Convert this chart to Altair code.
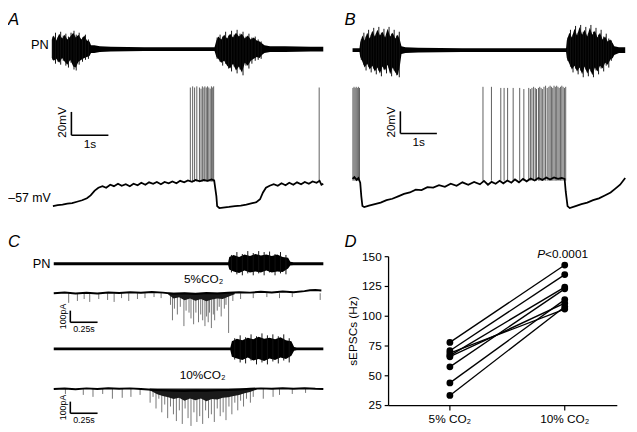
import altair as alt
import pandas as pd

FONT = "Liberation Sans"

# ---------------- data ----------------
# Panel A: phrenic nerve (PN, arbitrary units) and membrane potential (mV) vs time (s)
pnA_t = [0.00,0.05,0.12,0.20,0.28,0.35,0.42,0.50,0.58,0.65,0.72,0.80,0.88,0.95,1.02,1.06,1.15,1.30,1.60,2.5,
         3.5,4.40,4.45,4.50,4.58,4.66,4.74,4.82,4.90,4.98,5.06,5.14,5.22,5.30,5.38,5.46,5.54,5.62,5.68,5.75,
         5.9,6.3,7.0,7.34]
pnA_hi = [10,14,9,16,11,15,10,13,17,12,15,10,14,9,8,4,4,3,2.5,2,
          2,2,9,13,10,15,11,16,12,17,13,16,11,14,10,12,9,8,6,4,
          3,3,2.5,2.5]
pnA_lo = [-9,-12,-10,-14,-9,-13,-16,-11,-18,-19,-13,-11,-9,-8,-7,-4,-4,-3,-2.5,-2,
          -2,-2,-8,-10,-14,-12,-17,-20,-15,-22,-18,-24,-14,-17,-12,-10,-8,-9,-6,-4,
          -3,-3,-2.5,-2.5]
pnA_sp_t = [0.03,0.10,0.17,0.24,0.31,0.38,0.45,0.52,0.60,0.66,0.74,0.83,0.91,0.99,
            4.47,4.55,4.62,4.70,4.78,4.86,4.93,5.01,5.09,5.17,5.25,5.33,5.41,5.50,5.58,5.66]
pnA_sp_top = [13,17,12,18,14,16,13,17,19,15,17,12,15,10,
              12,15,13,18,14,19,15,20,16,18,13,16,12,13,10,8]
pnA_sp_bot = [-11,-15,-13,-16,-12,-17,-19,-14,-21,-22,-16,-13,-11,-10,
              -10,-13,-17,-15,-20,-23,-18,-25,-21,-27,-17,-20,-15,-12,-11,-10]
memA_t = [0.03,0.16,0.29,0.42,0.55,0.68,0.82,0.95,1.05,1.16,1.26,1.37,1.47,1.58,1.68,1.79,1.89,2.00,2.11,2.21,
          2.32,2.42,2.53,2.63,2.74,2.84,2.95,3.05,3.16,3.26,3.37,3.47,3.58,3.68,3.79,3.89,4.00,4.11,4.21,4.32,
          4.39,4.45,4.47,4.53,4.63,4.79,4.95,5.11,5.26,5.42,5.53,5.63,5.71,5.79,5.89,6.00,6.11,6.21,6.32,6.42,
          6.53,6.63,6.74,6.84,6.95,7.05,7.16,7.24,7.29,7.34]
memA_v = [-57.0,-56.2,-55.8,-54.9,-54.5,-53.3,-52.0,-50.3,-47.8,-43.7,-41.2,-39.9,-41.2,-38.7,-39.9,-37.8,-39.5,-38.2,-39.9,-37.8,
          -39.1,-37.0,-38.7,-36.6,-37.8,-36.2,-38.2,-36.2,-37.4,-35.8,-37.4,-35.3,-36.6,-34.9,-36.2,-34.5,-35.8,-34.5,-35.3,-34.1,
          -34.9,-48.7,-57.0,-58.7,-58.3,-57.8,-57.0,-56.6,-55.8,-54.5,-53.7,-51.2,-45.3,-41.2,-39.5,-38.2,-39.5,-37.4,-39.1,-37.0,
          -38.7,-36.6,-38.2,-36.2,-37.8,-35.8,-37.0,-35.3,-38.7,-37.8]
spkA_t = [3.745,3.808,3.861,3.921,3.992,4.034,4.071,4.113,4.139,4.176,4.211,4.245,4.282,4.316,4.350,4.376,7.229]
spkA_peak = [45,46,45,46,45,44,46,45,46,45,46,45,44,46,45,46,45]
spkA_base = -36

# Panel B
pnB_t = [0.0,0.19,0.21,0.27,0.33,0.40,0.47,0.54,0.61,0.68,0.75,0.82,0.89,0.96,1.03,1.10,1.17,1.24,1.30,1.34,
         1.45,1.8,3.0,4.5,5.85,5.87,5.94,6.01,6.08,6.15,6.22,6.29,6.36,6.43,6.50,6.57,6.64,6.71,6.78,6.85,
         6.92,6.99,7.06,7.13,7.17,7.3,7.47]
pnB_hi = [2,2,8,15,10,18,12,20,14,21,15,19,13,22,14,18,12,16,10,4,
          3,2.5,2,2,2,10,18,13,22,15,24,16,21,14,23,16,20,13,18,11,
          14,9,11,7,4,3,3]
pnB_lo = [-2,-2,-7,-12,-18,-14,-20,-16,-22,-18,-24,-17,-21,-15,-25,-18,-23,-26,-15,-4,
          -3,-2.5,-2,-2,-2,-8,-14,-20,-16,-22,-18,-25,-17,-24,-19,-26,-18,-22,-16,-19,
          -13,-15,-10,-8,-5,-3,-3]
pnB_sp_t = [0.24,0.31,0.37,0.44,0.51,0.58,0.65,0.72,0.79,0.86,0.93,1.00,1.07,1.14,1.21,1.28,
            5.90,5.97,6.04,6.11,6.18,6.25,6.32,6.39,6.46,6.53,6.60,6.67,6.74,6.81,6.88,6.95,7.02,7.09]
pnB_sp_top = [11,18,14,21,16,23,17,24,18,22,16,24,17,21,15,19,
              13,21,16,25,18,26,19,24,17,26,19,23,16,21,14,17,12,10]
pnB_sp_bot = [-10,-15,-21,-17,-23,-19,-25,-21,-27,-20,-24,-18,-27,-21,-26,-28,
              -11,-17,-23,-19,-25,-21,-28,-20,-27,-22,-28,-21,-25,-19,-22,-16,-18,-11]
memB_t = [0.00,0.05,0.11,0.16,0.21,0.24,0.27,0.32,0.45,0.61,0.77,0.93,1.09,1.25,1.41,1.57,1.73,1.89,2.05,2.21,
          2.37,2.53,2.69,2.85,3.01,3.17,3.33,3.49,3.60,3.71,3.81,3.92,4.03,4.13,4.24,4.35,4.45,4.56,4.67,4.77,
          4.88,4.99,5.09,5.20,5.31,5.41,5.52,5.63,5.73,5.81,5.84,5.89,5.95,6.11,6.27,6.43,6.59,6.75,6.91,7.07,
          7.20,7.33,7.47]
memB_v = [-32.4,-30.7,-33.3,-31.6,-35.9,-48.2,-57.0,-57.9,-56.6,-55.2,-53.9,-51.7,-50.4,-48.2,-46.0,-44.7,-42.1,-42.5,-39.9,-40.3,
          -38.1,-39.5,-36.8,-38.6,-35.5,-37.7,-35.1,-37.3,-34.2,-37.7,-35.1,-36.8,-34.2,-36.4,-33.8,-35.9,-32.9,-35.5,-32.4,-34.6,
          -32.0,-33.8,-31.6,-33.3,-31.1,-32.9,-31.1,-32.4,-31.6,-32.4,-43.8,-57.0,-58.8,-57.0,-55.2,-53.9,-51.7,-50.0,-47.4,-44.7,
          -41.2,-37.7,-31.6]
spkB_t = [0.01,0.04,0.07,0.10,0.13,0.16,0.19,
          3.573,3.805,4.061,4.152,4.248,4.400,4.579,4.693,4.827,4.872,4.915,4.960,5.005,5.040,5.093,5.128,5.165,5.200,
          5.245,5.288,5.333,5.379,5.413,5.448,5.485,5.520,5.555,5.592,5.627,5.661,5.699,5.733,5.768,5.805,5.840]
spkB_peak = [50,51,50,51,50,51,50,
             51,51,50,50,50,50,50,49,50,49,50,51,50,49,50,51,50,49,51,52,50,51,52,51,50,52,51,52,51,50,51,52,51,50,51]
spkB_base = -34

# Panel C: PN (a.u.) and sEPSC currents (pA) vs time (s)
pnC1_t = [0,0.5,1.0,1.5,1.60,1.61,1.65,1.70,1.75,1.80,1.85,1.90,1.95,2.00,2.05,2.10,2.15,2.17,2.2,2.473]
pnC1_hi = [1.5,1.5,1.5,1.5,1.5,7,9,7,9.5,8,10,8.5,9.5,8,9.5,7,6,2,1.5,1.5]
pnC1_lo = [-1.5,-1.5,-1.5,-1.5,-1.5,-6,-8,-9.5,-7,-9,-8,-9,-7,-9,-8,-8.5,-5,-2,-1.5,-1.5]
pnC1_sp_t = [1.63,1.68,1.73,1.78,1.83,1.88,1.93,1.98,2.03,2.08,2.13]
pnC1_sp_top = [9,12,10,13,11,13,12,12.5,10,12,9]
pnC1_sp_bot = [-9,-11,-12,-10,-12,-10,-12,-9,-12,-10,-11]
pnC2_t = [0,0.5,1.0,1.5,1.62,1.634,1.68,1.73,1.78,1.83,1.88,1.93,1.98,2.03,2.08,2.13,2.18,2.205,2.23,2.473]
pnC2_hi = [1.5,1.5,1.5,1.5,1.5,8,10.5,9,11.5,10,12.5,10.5,11.5,10,12,9,8,2,1.5,1.5]
pnC2_lo = [-1.5,-1.5,-1.5,-1.5,-1.5,-8,-10,-11.5,-9,-12,-10.5,-12.5,-10,-11.5,-9,-10.5,-7,-2,-1.5,-1.5]
pnC2_sp_t = [1.66,1.71,1.76,1.81,1.86,1.91,1.96,2.01,2.06,2.11,2.16]
pnC2_sp_top = [11,14,12,15,13,16,14,15,13,15,11]
pnC2_sp_bot = [-11,-14,-15,-12,-16,-14,-16,-13,-15,-12,-14]

i1_t = [0,0.1,0.2,0.3,0.4,0.5,0.6,0.7,0.8,0.9,1.0,1.1,1.2,1.3,1.4,1.5,1.6,1.7,1.8,1.9,2.0,2.1,2.2,2.3,2.35,2.4,2.455]
i1_v = [0,6,-3,4,-2,7,2,9,4,10,5,-4,0,-6,2,-3,4,8,5,12,7,14,9,18,25,28,24]
core1_t = [1.05,1.10,1.15,1.20,1.25,1.30,1.35,1.40,1.45,1.50,1.55,1.60,1.66]
core1_lo = [-10,-45,-35,-60,-45,-65,-50,-70,-55,-45,-50,-30,-8]
ev1_t = [0.137,0.217,0.279,0.330,0.413,0.494,0.554,0.622,0.688,0.768,0.837,0.920,0.985,
         1.071,1.089,1.107,1.134,1.161,1.194,1.214,1.241,1.259,1.283,1.304,1.328,1.348,1.366,1.387,1.402,1.417,
         1.429,1.446,1.464,1.476,1.500,1.518,1.536,1.565,1.580,1.604,1.643,
         1.714,1.830,1.955,2.071,2.188,2.444]
ev1_a = [-83,-67,-50,-75,-50,-58,-75,-42,-67,-50,-42,-33,-42,
         -100,-233,-133,-183,-117,-283,-150,-167,-217,-267,-167,-250,-183,-233,-283,-200,-250,
         -167,-300,-183,-233,-150,-117,-200,-133,-100,-342,-67,
         -50,-42,-33,-42,-33,-58]

i2_t = [0,0.1,0.2,0.3,0.4,0.5,0.6,0.7,0.8,0.9,1.0,1.1,1.2,1.3,1.4,1.5,1.6,1.7,1.8,1.9,2.0,2.1,2.2,2.3,2.4,2.473]
i2_v = [0,5,-2,6,1,8,3,6,0,-5,-10,-14,-16,-12,-15,-10,-8,-4,2,6,2,7,3,8,2,0]
core2_t = [0.88,0.95,1.00,1.05,1.10,1.15,1.20,1.25,1.30,1.35,1.40,1.45,1.50,1.55,1.60,1.65,1.70,1.75,1.80,1.86]
core2_lo = [-10,-45,-60,-70,-85,-75,-100,-80,-95,-80,-105,-85,-90,-75,-70,-60,-50,-35,-25,-5]
ev2_t = [0.107,0.271,0.360,0.449,0.538,0.628,0.708,0.792,
         0.884,0.911,0.938,0.964,0.991,1.018,1.045,1.071,1.098,1.125,1.152,1.179,1.205,1.232,1.259,1.286,1.313,1.339,
         1.366,1.393,1.420,1.446,1.473,1.500,1.527,1.554,1.580,1.607,1.634,1.661,1.688,1.714,1.741,1.768,1.804,1.830,
         1.922,2.012,2.071,2.188,2.310]
ev2_a = [-42,-50,-67,-42,-83,-75,-67,-50,
         -117,-67,-167,-83,-200,-133,-250,-150,-217,-275,-183,-300,-167,-250,-317,-200,-283,-233,
         -300,-183,-250,-217,-283,-167,-233,-200,-267,-150,-217,-117,-183,-100,-150,-83,-117,-67,
         -83,-67,-50,-42,-33]

# Panel D: sEPSC frequency (Hz), paired cells
co2_labels = ["5% CO₂", "10% CO₂"]
rate_5 = [78, 71, 69, 67, 66, 57.5, 44, 33.5]
rate_10 = [143, 135, 106, 124.5, 111, 123, 114, 108]
y_ticks = [25, 50, 75, 100, 125, 150]

# ---------------- layout helpers ----------------
W, H = 628, 424          # whole figure (one shared plot area)
SX, SY = 0.989, 0.984    # reference pixel -> figure pixel


def ref_x(cx):
    return 1 + cx / SX


def ref_y(cy):
    return 1 + cy / SY


def xdom(ref0, ppu, v0=0.0):
    return [v0 + (ref_x(0) - ref0) / ppu, v0 + (ref_x(W) - ref0) / ppu]


def ydom(ref0, v0, ppu):
    return [v0 - (ref_y(H) - ref0) / ppu, v0 + (ref0 - ref_y(0)) / ppu]


def sc(dom):
    return alt.Scale(domain=dom, nice=False, zero=False)


ONE = pd.DataFrame({"k": [0]})


def area(t, hi, lo, xs, ys, color="black"):
    df = pd.DataFrame({"t": t, "hi": hi, "lo": lo})
    return alt.Chart(df).mark_area(color=color, interpolate="linear").encode(
        x=alt.X("t:Q", scale=xs, axis=None),
        y=alt.Y("hi:Q", scale=ys, axis=None),
        y2="lo:Q")


def line(t, v, xs, ys, w):
    df = pd.DataFrame({"t": t, "v": v})
    return alt.Chart(df).mark_line(color="black", strokeWidth=w).encode(
        x=alt.X("t:Q", scale=xs, axis=None),
        y=alt.Y("v:Q", scale=ys, axis=None))


def rules(t, top, bot, xs, ys, color, w, op=1.0):
    df = pd.DataFrame({"t": t, "top": top, "bot": bot})
    return alt.Chart(df).mark_rule(color=color, strokeWidth=w, opacity=op).encode(
        x=alt.X("t:Q", scale=xs, axis=None),
        y=alt.Y("top:Q", scale=ys, axis=None),
        y2="bot:Q")


def label(txt, x, y, xs, ys, size=12, **kw):
    return alt.Chart(ONE).mark_text(text=txt, font=FONT, fontSize=size, color="black", **kw).encode(
        x=alt.X(datum=x, scale=xs, axis=None),
        y=alt.Y(datum=y, scale=ys, axis=None))


def segment(x0, x1, y0, y1, xs, ys, w=1.6):
    df = pd.DataFrame({"x": [x0], "x2": [x1], "y": [y0], "y2": [y1]})
    return alt.Chart(df).mark_rule(color="black", strokeWidth=w).encode(
        x=alt.X("x:Q", scale=xs, axis=None), x2="x2:Q",
        y=alt.Y("y:Q", scale=ys, axis=None), y2="y2:Q")


def scalebar(x0, y0, dx, dy, xs, ys):
    return [segment(x0, x0, y0, y0 + dy, xs, ys), segment(x0, x0 + dx, y0, y0, xs, ys)]


def letter(s, px, py):
    return alt.Chart(ONE).mark_text(text=s, font=FONT, fontSize=17, fontStyle="italic",
                                    align="left", baseline="middle", color="black").encode(
        x=alt.value(px), y=alt.value(py))


layers = []

# ---------------- panel A ----------------
xsA = sc(xdom(46, 38))
ysAm = sc(ydom(200, -57, 1.2))
ysAp = sc(ydom(38, 0, 1.0))
layers += [
    area(pnA_t, pnA_hi, pnA_lo, xsA, ysAp),
    rules(pnA_sp_t, pnA_sp_top, pnA_sp_bot, xsA, ysAp, "#111111", 1),
    rules(spkA_t, spkA_peak, [spkA_base] * len(spkA_t), xsA, ysAm, "#5e5e5e", 1),
    line(memA_t, memA_v, xsA, ysAm, 1.8),
    *scalebar(0.53, 4, 1, 20, xsA, ysAm),
    label("20mV", 0.53, 15, xsA, ysAm, 12, angle=270, align="center", baseline="bottom", dy=-2),
    label("1s", 1.03, 4, xsA, ysAm, 12, align="center", baseline="top", dy=4),
    label("PN", -0.08, 4, xsA, ysAp, 13, align="right", baseline="middle"),
    label("–57 mV", -0.03, -50, xsA, ysAm, 12.5, align="right", baseline="middle"),
    letter("A", 0, 7),
]

# ---------------- panel B ----------------
xsB = sc(xdom(355, 37.5))
ysBm = sc(ydom(200, -57, 1.14))
ysBp = sc(ydom(39, 0, 1.0))
layers += [
    area(pnB_t, pnB_hi, pnB_lo, xsB, ysBp),
    rules(pnB_sp_t, pnB_sp_top, pnB_sp_bot, xsB, ysBp, "#111111", 1),
    rules(spkB_t, spkB_peak, [spkB_base] * len(spkB_t), xsB, ysBm, "#5e5e5e", 1),
    line(memB_t, memB_v, xsB, ysBm, 1.8),
    *scalebar(1.31, 8.8, 1, 20, xsB, ysBm),
    label("20mV", 1.31, 19, xsB, ysBm, 12, angle=270, align="center", baseline="bottom", dy=-2),
    label("1s", 1.81, 8.8, xsB, ysBm, 12, align="center", baseline="top", dy=4),
    letter("B", 342, 7),
]

# ---------------- panel C ----------------
xsC = sc(xdom(48, 112))
ysP1 = sc(ydom(259.5, 0, 1.0))
ysI1 = sc(ydom(290, 0, 0.12))
ysP2 = sc(ydom(347.5, 0, 1.0))
ysI2 = sc(ydom(389, 0, 0.12))
layers += [
    area(pnC1_t, pnC1_hi, pnC1_lo, xsC, ysP1),
    rules(pnC1_sp_t, pnC1_sp_top, pnC1_sp_bot, xsC, ysP1, "#111111", 1),
    area(pnC2_t, pnC2_hi, pnC2_lo, xsC, ysP2),
    rules(pnC2_sp_t, pnC2_sp_top, pnC2_sp_bot, xsC, ysP2, "#111111", 1),
    rules(ev1_t, ev1_a, [0] * len(ev1_t), xsC, ysI1, "#666666", 0.9),
    area(core1_t, [5] * len(core1_t), core1_lo, xsC, ysI1, "#1a1a1a"),
    line(i1_t, i1_v, xsC, ysI1, 2.0),
    rules(ev2_t, ev2_a, [0] * len(ev2_t), xsC, ysI2, "#666666", 0.9),
    area(core2_t, [5] * len(core2_t), core2_lo, xsC, ysI2, "#1a1a1a"),
    line(i2_t, i2_v, xsC, ysI2, 2.0),
    *scalebar(0.152, -250, 0.25, 100, xsC, ysI1),
    label("100pA", 0.152, -200, xsC, ysI1, 9, angle=270, align="center", baseline="bottom", dy=-2),
    label("0.25s", 0.277, -250, xsC, ysI1, 9, align="center", baseline="top", dy=3),
    *scalebar(0.152, -208, 0.25, 100, xsC, ysI2),
    label("100pA", 0.152, -158, xsC, ysI2, 9, angle=270, align="center", baseline="bottom", dy=-2),
    label("0.25s", 0.277, -208, xsC, ysI2, 9, align="center", baseline="top", dy=3),
    label("PN", -0.03, 0, xsC, ysP1, 13, align="right", baseline="middle"),
    label("5%CO₂", 1.375, 125, xsC, ysI1, 12, align="center", baseline="middle"),
    label("10%CO₂", 1.366, 117, xsC, ysI2, 12, align="center", baseline="middle"),
    letter("C", 0, 232),
]

# ---------------- panel D (axes drawn with marks on its own scales) ----------------
xsD = sc(xdom(455, 118))
ysD = sc(ydom(406, 25, 1.2296))
ax_left = (392 - 455) / 118
ax_right = (627 - 455) / 118
ytick_len = 4 / 118
xtick_len = 5 / 1.2296
n = len(rate_5)
dD = pd.DataFrame({"cond": [0] * n + [1] * n, "rate": rate_5 + rate_10, "cell": list(range(n)) * 2})
yt = pd.DataFrame({"v": y_ticks, "lab": [str(v) for v in y_ticks],
                   "x0": [ax_left - ytick_len] * len(y_ticks), "x1": [ax_left] * len(y_ticks)})
xt = pd.DataFrame({"c": [0, 1], "lab": co2_labels, "y0": [25, 25], "y1": [25 - xtick_len] * 2})
encX = alt.X("cond:Q", scale=xsD, axis=None)
encY = alt.Y("rate:Q", scale=ysD, axis=None)
layers += [
    segment(ax_left, ax_left, 25, 150, xsD, ysD, 1.3),
    segment(ax_left, ax_right, 25, 25, xsD, ysD, 1.3),
    alt.Chart(yt).mark_rule(color="black", strokeWidth=1.2).encode(
        x=alt.X("x0:Q", scale=xsD, axis=None), x2="x1:Q", y=alt.Y("v:Q", scale=ysD, axis=None)),
    alt.Chart(yt).mark_text(font=FONT, fontSize=12, align="right", baseline="middle", dx=-3, color="black").encode(
        x=alt.X("x0:Q", scale=xsD, axis=None), y=alt.Y("v:Q", scale=ysD, axis=None), text="lab:N"),
    alt.Chart(xt).mark_rule(color="black", strokeWidth=1.2).encode(
        x=alt.X("c:Q", scale=xsD, axis=None), y=alt.Y("y0:Q", scale=ysD, axis=None), y2="y1:Q"),
    alt.Chart(xt).mark_text(font=FONT, fontSize=12, align="center", baseline="top", dy=4, color="black").encode(
        x=alt.X("c:Q", scale=xsD, axis=None), y=alt.Y("y1:Q", scale=ysD, axis=None), text="lab:N"),
    label("sEPSCs (Hz)", ax_left, 87.5, xsD, ysD, 12, angle=270, align="center", baseline="bottom", dy=-29),
    alt.Chart(dD).mark_line(color="black", strokeWidth=1.4).encode(x=encX, y=encY, detail="cell:N"),
    alt.Chart(dD).mark_circle(size=48, color="black", opacity=1).encode(x=encX, y=encY),
    label("P", 1, 152, xsD, ysD, 12, fontStyle="italic", align="right", baseline="middle", dx=-20),
    label("<0.0001", 1, 152, xsD, ysD, 12, align="left", baseline="middle", dx=-20),
    letter("D", 342, 232),
]

chart = alt.layer(*layers).resolve_scale(x="independent", y="independent").properties(
    width=W, height=H, padding=0, background="white").configure_view(stroke=None)

chart.save("out.html", embed_options={"renderer": "svg", "actions": False})
